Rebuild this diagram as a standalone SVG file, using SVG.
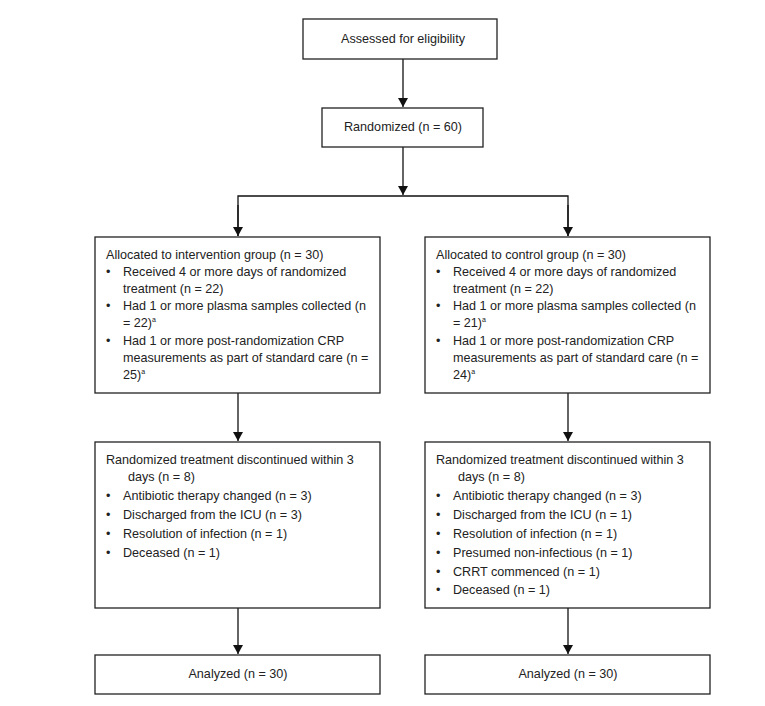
<svg xmlns="http://www.w3.org/2000/svg" width="765" height="706" viewBox="0 0 765 706">
<defs>
<marker id="ah" markerWidth="10" markerHeight="10" refX="9" refY="5" orient="auto" markerUnits="userSpaceOnUse">
<path d="M0,0 L9,5 L0,10 Z" fill="#111"/>
</marker>
<style>
.box{fill:#fff;stroke:#222;stroke-width:1.3}
.t{font-family:"Liberation Sans",Arial,sans-serif;font-size:12.6px;fill:#222}
.c{text-anchor:middle}
.sup{font-size:7px}
.ln{stroke:#111;stroke-width:1.3;fill:none}
</style>
</defs>
<rect width="765" height="706" fill="#fff"/>
<g id="connectors">
<line class="ln" x1="403" y1="59" x2="403" y2="107" marker-end="url(#ah)"/>
<line class="ln" x1="403" y1="147" x2="403" y2="195" marker-end="url(#ah)"/>
<polyline class="ln" points="238,236 238,196 568,196 568,236"/>
<line class="ln" x1="238" y1="205" x2="238" y2="236" marker-end="url(#ah)"/>
<line class="ln" x1="568" y1="205" x2="568" y2="236" marker-end="url(#ah)"/>
<line class="ln" x1="238" y1="393" x2="238" y2="441" marker-end="url(#ah)"/>
<line class="ln" x1="568" y1="393" x2="568" y2="441" marker-end="url(#ah)"/>
<line class="ln" x1="238" y1="608" x2="238" y2="654" marker-end="url(#ah)"/>
<line class="ln" x1="568" y1="608" x2="568" y2="654" marker-end="url(#ah)"/>
</g>
<g id="assessed">
<rect class="box" x="303" y="19" width="194" height="40"/>
<text class="t c" x="403" y="43">Assessed for eligibility</text>
</g>
<g id="randomized">
<rect class="box" x="322" y="108" width="161" height="39"/>
<text class="t c" x="403" y="131">Randomized (n = 60)</text>
</g>
<g id="intervention">
<rect class="box" x="95" y="237" width="285" height="156"/>
<text class="t" x="106" y="259">Allocated to intervention group (n = 30)</text>
<text class="t" x="106" y="276">•</text><text class="t" x="123" y="276">Received 4 or more days of randomized</text>
<text class="t" x="123" y="293">treatment (n = 22)</text>
<text class="t" x="106" y="310">•</text><text class="t" x="123" y="310">Had 1 or more plasma samples collected (n</text>
<text class="t" x="123" y="327">= 22)<tspan class="sup" dy="-5">a</tspan></text>
<text class="t" x="106" y="345">•</text><text class="t" x="123" y="345">Had 1 or more post-randomization CRP</text>
<text class="t" x="123" y="362">measurements as part of standard care (n =</text>
<text class="t" x="123" y="379">25)<tspan class="sup" dy="-5">a</tspan></text>
</g>
<g id="control">
<rect class="box" x="425" y="237" width="285" height="156"/>
<text class="t" x="436" y="259">Allocated to control group (n = 30)</text>
<text class="t" x="436" y="276">•</text><text class="t" x="453" y="276">Received 4 or more days of randomized</text>
<text class="t" x="453" y="293">treatment (n = 22)</text>
<text class="t" x="436" y="310">•</text><text class="t" x="453" y="310">Had 1 or more plasma samples collected (n</text>
<text class="t" x="453" y="327">= 21)<tspan class="sup" dy="-5">a</tspan></text>
<text class="t" x="436" y="345">•</text><text class="t" x="453" y="345">Had 1 or more post-randomization CRP</text>
<text class="t" x="453" y="362">measurements as part of standard care (n =</text>
<text class="t" x="453" y="379">24)<tspan class="sup" dy="-5">a</tspan></text>
</g>
<g id="discontinued-intervention">
<rect class="box" x="95" y="442" width="285" height="166"/>
<text class="t" x="106" y="464">Randomized treatment discontinued within 3</text>
<text class="t" x="128" y="481">days (n = 8)</text>
<text class="t" x="106" y="500">•</text><text class="t" x="123" y="500">Antibiotic therapy changed (n = 3)</text>
<text class="t" x="106" y="519">•</text><text class="t" x="123" y="519">Discharged from the ICU (n = 3)</text>
<text class="t" x="106" y="538">•</text><text class="t" x="123" y="538">Resolution of infection (n = 1)</text>
<text class="t" x="106" y="557">•</text><text class="t" x="123" y="557">Deceased (n = 1)</text>
</g>
<g id="discontinued-control">
<rect class="box" x="425" y="442" width="285" height="166"/>
<text class="t" x="436" y="464">Randomized treatment discontinued within 3</text>
<text class="t" x="458" y="481">days (n = 8)</text>
<text class="t" x="436" y="500">•</text><text class="t" x="453" y="500">Antibiotic therapy changed (n = 3)</text>
<text class="t" x="436" y="519">•</text><text class="t" x="453" y="519">Discharged from the ICU (n = 1)</text>
<text class="t" x="436" y="538">•</text><text class="t" x="453" y="538">Resolution of infection (n = 1)</text>
<text class="t" x="436" y="557">•</text><text class="t" x="453" y="557">Presumed non-infectious (n = 1)</text>
<text class="t" x="436" y="576">•</text><text class="t" x="453" y="576">CRRT commenced (n = 1)</text>
<text class="t" x="436" y="594">•</text><text class="t" x="453" y="594">Deceased (n = 1)</text>
</g>
<g id="analyzed-intervention">
<rect class="box" x="95" y="655" width="285" height="39"/>
<text class="t c" x="238" y="678">Analyzed (n = 30)</text>
</g>
<g id="analyzed-control">
<rect class="box" x="425" y="655" width="285" height="39"/>
<text class="t c" x="568" y="678">Analyzed (n = 30)</text>
</g>
</svg>
